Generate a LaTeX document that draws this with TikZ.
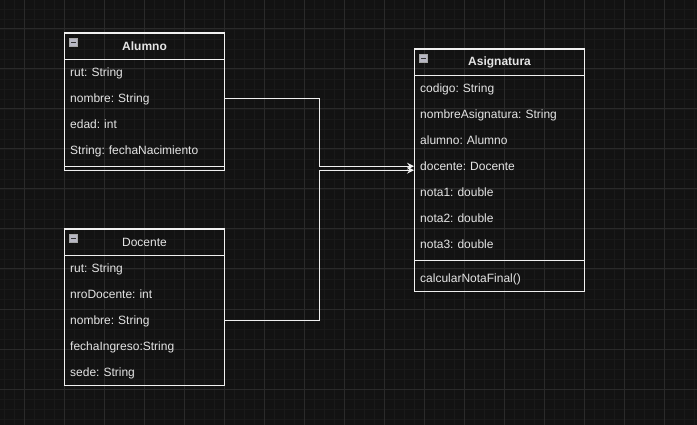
\documentclass[tikz,border=0pt]{standalone}
\usepackage{fontspec}
\setmainfont{Liberation Sans}
\usetikzlibrary{arrows.meta,positioning}
\frenchspacing

\definecolor{bgdark}{HTML}{121212}
\definecolor{gridminor}{HTML}{191919}
\definecolor{gridmajor}{HTML}{2A2A2A}
\definecolor{umlline}{HTML}{F0F0F0}
\definecolor{umltext}{HTML}{E4E4E4}
\definecolor{iconfill}{HTML}{B8B8C4}

\tikzset{
    umlhead/.style={draw=umlline, line width=1pt, minimum height=26pt, anchor=north west, inner sep=0pt, text=umltext},
    umlrow/.style={minimum height=26pt, anchor=north west, inner xsep=6pt, inner ysep=0pt, text height=10pt, text depth=1pt, align=left, text=umltext},
    minusbox/.style={draw=gray!70, fill=iconfill, minimum size=8pt, inner sep=0pt, anchor=north west, line width=0.6pt},
    minusbar/.style={black!80, line width=1.2pt},
    assoc/.style={umlline, line width=1pt, -{Stealth[length=7pt, width=7pt, inset=2.5pt]}},
}

\begin{document}
\begin{tikzpicture}[x=1pt, y=-1pt, font=\fontsize{12}{14}\selectfont]
        \useasboundingbox (0,0) rectangle (697,425);
        % Background
        \fill[bgdark] (0,0) rectangle (697,425);
        \foreach \x in {4, 14, ..., 694} {
            \draw[gridminor, line width=0.6pt] (\x, 0) -- (\x, 425);
        }
        \foreach \y in {9, 19, ..., 419} {
            \draw[gridminor, line width=0.6pt] (0, \y) -- (697, \y);
        }
        \foreach \x in {24, 64, ..., 664} {
            \draw[gridmajor, line width=1pt] (\x, 0) -- (\x, 425);
        }
        \foreach \y in {29, 69, ..., 389} {
            \draw[gridmajor, line width=1pt] (0, \y) -- (697, \y);
        }

        % Alumno
        \node[umlhead, minimum width=160pt, font=\fontsize{12}{14}\selectfont\bfseries] (alumno) at (64, 33) {Alumno};
        \foreach \txt [count=\i] in {rut: String, nombre: String, edad: int, String: fechaNacimiento} {
            \node[umlrow, text width=148pt] (alumno\i) at (64, {59 + 26*(\i-1)}) {\txt};
        }
        \draw[umlline, line width=1pt] (64, 167) -- (224, 167);
        \draw[umlline, line width=1pt] (alumno.north west) rectangle (224, 171);

        % Docente
        \node[umlhead, minimum width=160pt] (docente) at (64, 229) {Docente};
        \foreach \txt [count=\i] in {rut: String, nroDocente: int, nombre: String, fechaIngreso:String, sede: String} {
            \node[umlrow, text width=148pt] (docente\i) at (64, {255 + 26*(\i-1)}) {\txt};
        }
        \draw[umlline, line width=1pt] (docente.north west) rectangle (docente5.south east);

        % Asignatura
        \node[umlhead, minimum width=170pt, font=\fontsize{12}{14}\selectfont\bfseries] (asignatura) at (414, 49) {Asignatura};
        \foreach \txt [count=\i] in {codigo: String, nombreAsignatura: String, alumno: Alumno, docente: Docente, nota1: double, nota2: double, nota3: double} {
            \node[umlrow, text width=158pt] (asignatura\i) at (414, {75 + 26*(\i-1)}) {\txt};
        }
        \draw[umlline, line width=1pt] (414, 261) -- (584, 261);
        \node[umlrow, text width=158pt] (asignaturaM) at (414, 265) {calcularNotaFinal()};
        \draw[umlline, line width=1pt] (asignatura.north west) rectangle (asignaturaM.south east);

        % Icons
        \foreach \cls in {alumno, docente, asignatura} {
            \node[minusbox] (\cls Icon) at ([shift={(5,5)}]\cls.north west) {};
            \draw[minusbar] ([xshift=2pt]\cls Icon.west) -- ([xshift=-2pt]\cls Icon.east);
        }

        % Associations
        \coordinate (bend) at (319, 0);
        \draw[assoc] (alumno2.east) -- (alumno2.east -| bend) |- (asignatura4.west);
        \draw[assoc] (docente3.east) -- (docente3.east -| bend) |- ([yshift=-4pt]asignatura4.west);

    \end{tikzpicture}
\end{document}
